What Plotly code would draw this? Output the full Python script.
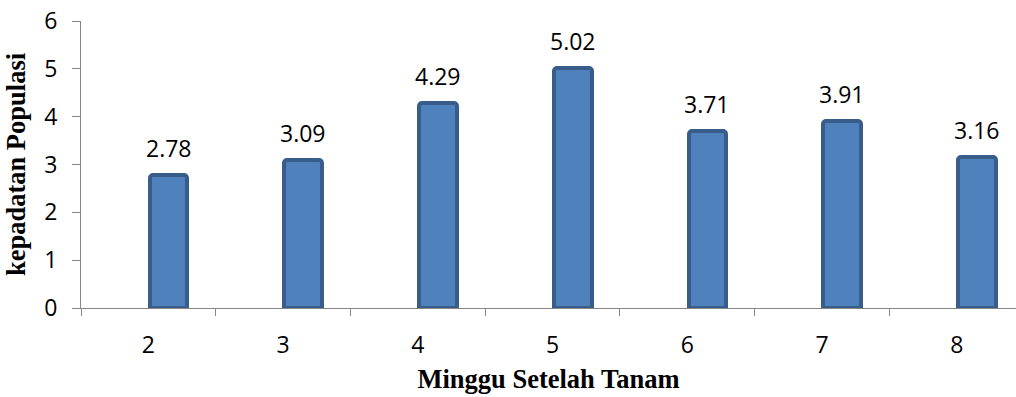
import plotly.graph_objects as go

weeks = ["2", "3", "4", "5", "6", "7", "8"]
density = [2.78, 3.09, 4.29, 5.02, 3.71, 3.91, 3.16]
y_ticks = [0, 1, 2, 3, 4, 5, 6]

num_font = "Open Sans, DejaVu Sans, sans-serif"
serif_font = "Liberation Serif, Times New Roman, serif"

BAR_OFFSET = 0.01
BAR_WIDTH = 0.28

fig = go.Figure(
    go.Bar(
        x=weeks,
        y=density,
        width=BAR_WIDTH,
        offset=BAR_OFFSET,
        marker=dict(color="#4F81BD", line=dict(color="#385D8A", width=4), cornerradius=3),
        hoverinfo="x+y",
    )
)

# data labels placed above each bar, through the axis scales
for i, v in enumerate(density):
    fig.add_annotation(
        x=i + BAR_OFFSET + BAR_WIDTH / 2,
        y=v,
        xref="x",
        yref="y",
        text=f"{v:.2f}",
        showarrow=False,
        yanchor="bottom",
        yshift=9,
        font=dict(family=num_font, size=23, color="#000000"),
    )

fig.update_layout(
    width=1016,
    height=397,
    margin=dict(l=81, r=0, t=21, b=89),
    paper_bgcolor="white",
    plot_bgcolor="white",
    showlegend=False,
    bargap=0,
    xaxis=dict(
        type="category",
        range=[-0.5, 6.44],
        tickson="boundaries",
        ticks="outside",
        ticklen=7,
        tickcolor="#868686",
        tickwidth=1,
        showline=True,
        linecolor="#868686",
        linewidth=1,
        showgrid=False,
        zeroline=False,
        tickfont=dict(family=num_font, size=23, color="#000000"),
        ticklabelstandoff=16,
        title=dict(
            text="Minggu Setelah Tanam",
            font=dict(family=serif_font, size=26.5, color="#000000", weight="bold"),
            standoff=10,
        ),
    ),
    yaxis=dict(
        range=[0, 6],
        tickvals=y_ticks,
        ticks="outside",
        ticklen=8,
        tickcolor="#868686",
        tickwidth=1,
        showline=True,
        linecolor="#868686",
        linewidth=1,
        showgrid=False,
        zeroline=False,
        tickfont=dict(family=num_font, size=23, color="#000000"),
        ticklabelstandoff=10,
        title=dict(
            text="kepadatan Populasi",
            font=dict(family=serif_font, size=26.5, color="#000000", weight="bold"),
            standoff=10,
        ),
    ),
)

fig.write_html("out.html")
